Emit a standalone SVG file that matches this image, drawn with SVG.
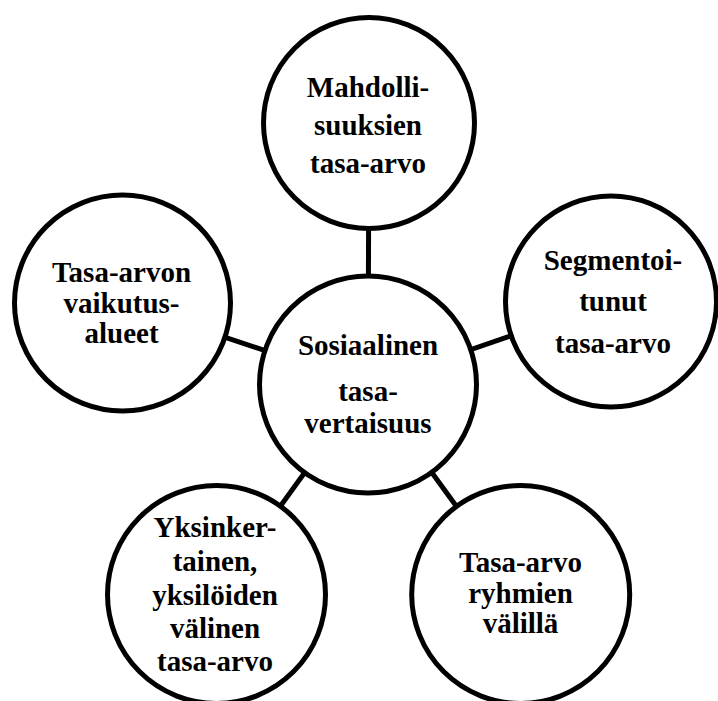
<svg xmlns="http://www.w3.org/2000/svg" width="718" height="701" viewBox="0 0 718 701">
<style>
.c{fill:#fff;stroke:#000;stroke-width:5}
.l{stroke:#000;stroke-width:5}
.t{font-family:'Liberation Serif',serif;font-weight:700;font-size:29px;fill:#000;text-anchor:middle}
</style>
<rect width="718" height="701" fill="#fff"/>
<g id="connectors">
<line class="l" x1="368" y1="385" x2="369" y2="123"/>
<line class="l" x1="368" y1="385" x2="611" y2="301.5"/>
<line class="l" x1="368" y1="385" x2="122.5" y2="303"/>
<line class="l" x1="368" y1="385" x2="216.5" y2="594.5"/>
<line class="l" x1="368" y1="385" x2="520.7" y2="594.5"/>
</g>
<g id="center" class="t" font-family="Liberation Serif, serif">
<circle class="c" cx="368" cy="384.5" r="108.5"/>
<text x="368" y="355">Sosiaalinen</text>
<text x="368" y="401">tasa-</text>
<text x="368" y="433">vertaisuus</text>
</g>
<g id="top" class="t" font-family="Liberation Serif, serif">
<circle class="c" cx="369" cy="123" r="105.5"/>
<text x="368" y="97">Mahdolli-</text>
<text x="368" y="135">suuksien</text>
<text x="368" y="173">tasa-arvo</text>
</g>
<g id="right" class="t" font-family="Liberation Serif, serif">
<circle class="c" cx="611" cy="301.5" r="105.5"/>
<text x="613" y="270">Segmentoi-</text>
<text x="613" y="311">tunut</text>
<text x="613" y="353">tasa-arvo</text>
</g>
<g id="left" class="t" font-family="Liberation Serif, serif">
<circle class="c" cx="122.5" cy="303" r="108"/>
<text x="121.5" y="282">Tasa-arvon</text>
<text x="121.5" y="313">vaikutus-</text>
<text x="121.5" y="343">alueet</text>
</g>
<g id="bottom-left" class="t" font-family="Liberation Serif, serif">
<circle class="c" cx="216.5" cy="594.5" r="109"/>
<text x="215" y="537">Yksinker-</text>
<text x="215" y="571">tainen,</text>
<text x="215" y="605">yksilöiden</text>
<text x="215" y="638">välinen</text>
<text x="215" y="671">tasa-arvo</text>
</g>
<g id="bottom-right" class="t" font-family="Liberation Serif, serif">
<circle class="c" cx="520.7" cy="594.5" r="109"/>
<text x="520.5" y="572">Tasa-arvo</text>
<text x="520.5" y="603">ryhmien</text>
<text x="520.5" y="633">välillä</text>
</g>
</svg>
